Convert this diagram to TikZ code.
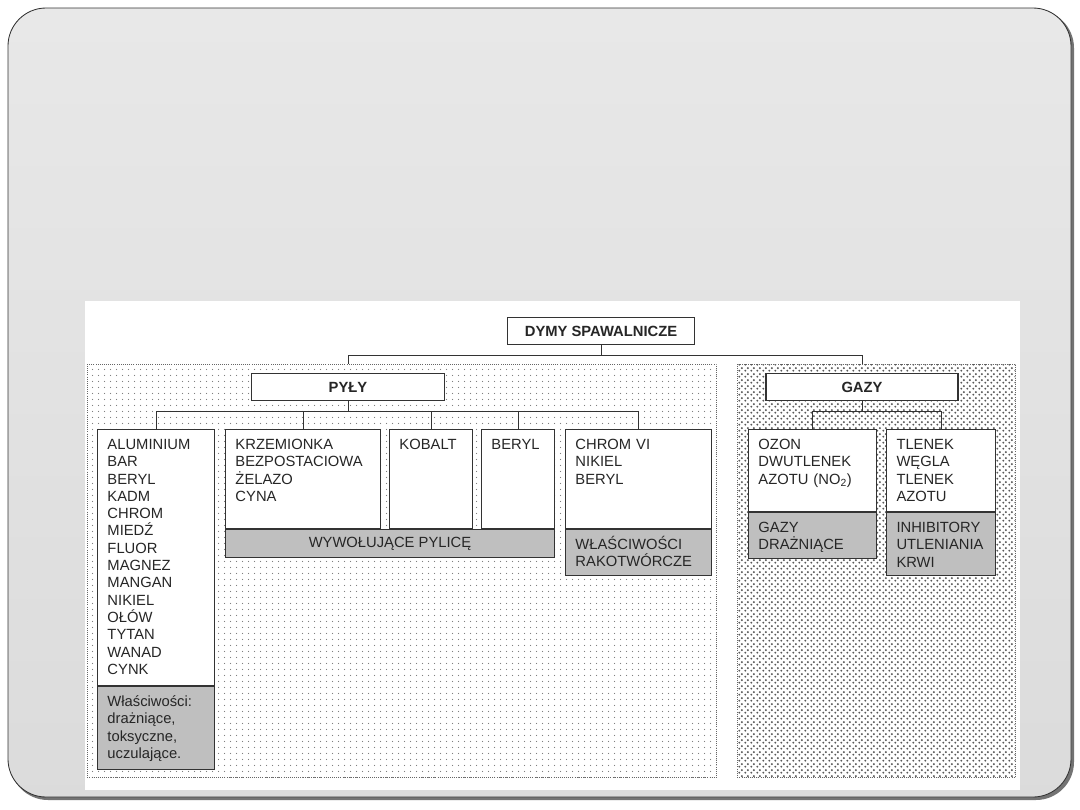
\documentclass[tikz,border=0pt]{standalone}
\usepackage{fontspec}
\setmainfont{Liberation Sans}
\usetikzlibrary{positioning,patterns.meta}
\newlength\pxu
\setlength\pxu{0.025cm}

\tikzdeclarepattern{
  name=finedots, type=uncolored,
  bottom left={(0pt,0pt)}, top right={(4.27pt,4.27pt)}, tile size={(4.27pt,4.27pt)},
  code={\pgfpathcircle{\pgfpoint{2.1pt}{2.1pt}}{.45pt}\pgfusepath{fill}}}
\tikzdeclarepattern{
  name=crossdots, type=uncolored,
  bottom left={(0pt,0pt)}, top right={(4.27pt,4.27pt)}, tile size={(4.27pt,4.27pt)},
  code={\pgfpathcircle{\pgfpoint{1.07pt}{1.07pt}}{.85pt}
        \pgfpathcircle{\pgfpoint{3.2pt}{3.2pt}}{.85pt}\pgfusepath{fill}}}

\begin{document}
\begin{tikzpicture}[
    x=\pxu, y=-\pxu,
    font=\fontsize{10.5pt}{12.3pt}\selectfont,
    text=black!85,
    head_box/.style={draw=black!80, fill=white, line width=1pt, inner sep=0pt,
        minimum height=27\pxu, font=\bfseries\fontsize{10.5pt}{12.3pt}\selectfont},
    cell_box/.style 2 args={draw=black!80, fill=white, line width=.7pt, anchor=north west,
        inner xsep=10\pxu, inner ysep=0pt, text width=#1\pxu, text height=20\pxu,
        text depth=#2\pxu, align=left},
    gray_box/.style 2 args={cell_box={#1}{#2}, fill=black!25},
    area/.style={draw=black!60, densely dotted, line width=.5pt, inner sep=0pt, anchor=north west},
    conn/.style={draw=black!80, line width=.7pt}
]
\useasboundingbox (0,0) rectangle (1080,810);

% slide
\fill[black!55, rounded corners=38\pxu] (10,10) rectangle (1074,800);
\shade[top color=black!9, bottom color=black!14, draw=black!80, line width=.6pt,
    rounded corners=38\pxu] (8,8) rectangle (1071,797);
\fill[white] (85,301) rectangle (1020,790);

% hatched areas
\node (pyly_area) [area, pattern=finedots, pattern color=black!55,
    minimum width=629\pxu, minimum height=413\pxu] at (87,364) {};
\node (gazy_area) [area, pattern=crossdots, pattern color=black!65,
    minimum width=278\pxu, minimum height=413\pxu] at (737,364) {};

% headers
\node (dymy) [head_box, line width=1.4pt, minimum width=187\pxu] at (601,331) {DYMY SPAWALNICZE};
\node (pyly) [head_box, minimum width=193\pxu] at (348,387) {PYŁY};
\node (gazy) [head_box, minimum width=192\pxu] at (862,387) {GAZY};

% pyly
\node (alu) [cell_box={97}{236}] at (97,429)
    {ALUMINIUM\\BAR\\BERYL\\KADM\\CHROM\\MIEDŹ\\FLUOR\\MAGNEZ\\MANGAN\\NIKIEL\\OŁÓW\\TYTAN\\WANAD\\CYNK};
\node (alu_prop) [gray_box={97}{63}, below=0pt of alu]
    {Właściwości:\\drażniące,\\toksyczne,\\uczulające.};
\node (krz) [cell_box={135}{79}] at (225,429) {KRZEMIONKA\\BEZPOSTACIOWA\\ŻELAZO\\CYNA};
\node (kob) [cell_box={63}{79}] at (389,429) {KOBALT};
\node (ber) [cell_box={53}{79}] at (481,429) {BERYL};
\node (chr) [cell_box={126}{79}] at (565,429) {CHROM VI\\NIKIEL\\BERYL};
\node (pylice) [draw=black!80, fill=black!25, line width=.7pt, inner sep=0pt,
    minimum width=329\pxu, minimum height=28\pxu,
    below right=0pt and 0pt of krz.south west] {WYWOŁUJĄCE PYLICĘ};
\node (rak) [gray_box={126}{26}, below=0pt of chr] {WŁAŚCIWOŚCI\\RAKOTWÓRCZE};

% gazy
\node (ozon) [cell_box={108}{62}] at (748,429) {OZON\\DWUTLENEK\\AZOTU (NO\textsubscript{2})};
\node (tlen) [cell_box={89}{62}] at (886,429) {TLENEK\\WĘGLA\\TLENEK\\AZOTU};
\node (draz) [gray_box={108}{26}, below=0pt of ozon] {GAZY\\DRAŻNIĄCE};
\node (inhib) [gray_box={89}{43}, below=0pt of tlen] {INHIBITORY\\UTLENIANIA\\KRWI};

% connectors
\draw[conn] (dymy.south) -- ++(0,10) coordinate (top_bus);
\draw[conn] (top_bus) -| (pyly_area.north -| pyly.north);
\draw[conn] (top_bus) -| (gazy_area.north -| gazy.north);
\draw[conn] (pyly.south) -- ++(0,10) coordinate (pyly_bus);
\foreach \n in {alu,krz,kob,ber,chr}
    \draw[conn] (pyly_bus) -| (\n.north);
\draw[conn] (gazy.south) -- ++(0,10) coordinate (gazy_bus);
\foreach \n in {ozon,tlen}
    \draw[conn] (gazy_bus) -| (\n.north);

\end{tikzpicture}
\end{document}
